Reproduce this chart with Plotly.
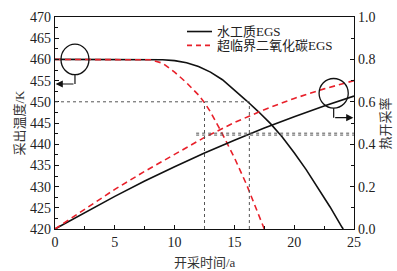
import plotly.graph_objects as go

# ---- data ----
t_water_T = [0, 2, 4, 6, 8, 9, 10, 11, 12, 13, 14, 15, 16, 17, 18, 19, 20, 21, 22, 23, 24, 24.1]
water_T = [460, 460, 460, 460, 460, 459.9, 459.7, 459.2, 458.3, 457.0, 455.2, 452.8, 450.3, 447.7,
           444.9, 441.7, 438.0, 434.0, 429.7, 425.2, 420.4, 420.0]

t_co2_T = [0, 2, 4, 6, 7, 8, 9, 10, 11, 12, 12.5, 13, 14, 15, 16, 17, 17.5]
co2_T = [460, 460, 460, 460, 460, 459.9, 459.1, 457.0, 454.5, 451.6, 449.8, 447.6, 442.4,
         436.8, 430.6, 423.8, 420.0]

t_rate = [0, 2.5, 5, 7.5, 10, 12.5, 15, 17.5, 20, 22.5, 25]
water_rate = [0, 0.078, 0.154, 0.226, 0.294, 0.358, 0.419, 0.476, 0.530, 0.580, 0.627]
co2_rate = [0, 0.095, 0.187, 0.272, 0.352, 0.432, 0.502, 0.563, 0.616, 0.661, 0.700]

series_names = ["水工质EGS", "超临界二氧化碳EGS"]

# reference (guide) values
T_ref = 450
t_ref = [12.5, 16.25]          # CO2, water reach 450 K
rate_ref = [0.443, 0.452]      # rates at those times

FONT = "Liberation Serif, Times New Roman, Noto Sans CJK SC"
BLACK = "#111111"
RED = "#e8202a"
GUIDE = "#555555"
DASH = "6px,4px"

fig = go.Figure()
fig.add_trace(go.Scatter(x=t_water_T, y=water_T, mode="lines", name=series_names[0],
                         line=dict(color=BLACK, width=1.6)))
fig.add_trace(go.Scatter(x=t_co2_T, y=co2_T, mode="lines", name=series_names[1],
                         line=dict(color=RED, width=1.6, dash=DASH)))
fig.add_trace(go.Scatter(x=t_rate, y=water_rate, mode="lines", yaxis="y2",
                         line=dict(color=BLACK, width=1.6)))
fig.add_trace(go.Scatter(x=t_rate, y=co2_rate, mode="lines", yaxis="y2",
                         line=dict(color=RED, width=1.6, dash=DASH)))

shapes = []
# guide lines
shapes.append(dict(type="line", xref="x", yref="y", x0=0, x1=t_ref[1], y0=T_ref, y1=T_ref,
                   line=dict(color=GUIDE, width=1, dash="dot")))
for tv in t_ref:
    shapes.append(dict(type="line", xref="x", yref="y", x0=tv, x1=tv, y0=420, y1=T_ref,
                       line=dict(color=GUIDE, width=1, dash="dot")))
for rv in rate_ref:
    shapes.append(dict(type="line", xref="x", yref="y2", x0=11.8, x1=25, y0=rv, y1=rv,
                       line=dict(color=GUIDE, width=1, dash="dot")))
# circles
shapes.append(dict(type="circle", xref="x", yref="y", x0=1.67 - 1.17, x1=1.67 + 1.17,
                   y0=460 - 3.6, y1=460 + 3.6, line=dict(color=BLACK, width=1.3)))
shapes.append(dict(type="circle", xref="x", yref="y2", x0=23.3 - 1.22, x1=23.3 + 1.22,
                   y0=0.64 - 0.07, y1=0.64 + 0.07, line=dict(color=BLACK, width=1.3)))
# arrow stems
shapes.append(dict(type="line", xref="x", yref="y", x0=1.67, x1=1.67, y0=456.4, y1=454.2,
                   line=dict(color=BLACK, width=1.2)))
shapes.append(dict(type="line", xref="x", yref="y2", x0=23.3, x1=23.3, y0=0.57, y1=0.525,
                   line=dict(color=BLACK, width=1.2)))

# manual legend (compact, like the reference)
leg_rows = [0.9315, 0.866]
leg_styles = [dict(color=BLACK, width=1.6), dict(color=RED, width=1.6, dash="5px,4px")]
for yy, st in zip(leg_rows, leg_styles):
    shapes.append(dict(type="line", xref="paper", yref="paper", x0=0.4415, x1=0.525,
                       y0=yy, y1=yy, line=st))

annotations = [
    dict(x=0.05, y=454.2, ax=1.67, ay=454.2, xref="x", yref="y", axref="x", ayref="y",
         showarrow=True, arrowhead=2, arrowsize=1.2, arrowwidth=1.2, arrowcolor=BLACK, text=""),
    dict(x=24.95, y=0.525, ax=23.3, ay=0.525, xref="x", yref="y2", axref="x", ayref="y2",
         showarrow=True, arrowhead=2, arrowsize=1.2, arrowwidth=1.2, arrowcolor=BLACK, text=""),
    dict(text="开采时间/a", x=0.5, y=-0.115, xref="paper", yref="paper", showarrow=False,
         xanchor="center", yanchor="top", font=dict(family=FONT, size=13, color="#333")),
    dict(text="采出温度/K", x=-0.122, y=0.5, xref="paper", yref="paper", showarrow=False,
         xanchor="center", yanchor="middle",
         textangle=-90, font=dict(family=FONT, size=13, color="#333")),
    dict(text="热开采率", x=1.105, y=0.5, xref="paper", yref="paper", showarrow=False,
         xanchor="center", yanchor="middle",
         textangle=-90, font=dict(family=FONT, size=13, color="#333")),
]
for yy, nm in zip(leg_rows, series_names):
    annotations.append(dict(text=nm, x=0.535, y=yy, xref="paper", yref="paper", showarrow=False,
                            xanchor="left", yanchor="middle",
                            font=dict(family=FONT, size=13, color="#222")))

axis_common = dict(showgrid=False, zeroline=False, showline=True, linecolor=BLACK, linewidth=1.3,
                   ticks="inside", ticklen=4, tickwidth=1, tickcolor=BLACK,
                   tickfont=dict(family=FONT, size=14, color="#222"))

fig.update_layout(
    width=397, height=271,
    margin=dict(l=55, r=43, t=10, b=42),
    paper_bgcolor="white", plot_bgcolor="white",
    font=dict(family=FONT),
    shapes=shapes, annotations=annotations,
    xaxis=dict(range=[0, 25], dtick=5, mirror=True,
               minor=dict(ticks="inside", ticklen=2.5, dtick=2.5, tickcolor=BLACK), **axis_common),
    yaxis=dict(range=[420, 470], dtick=5,
               minor=dict(ticks="inside", ticklen=2.5, dtick=2.5, tickcolor=BLACK), **axis_common),
    yaxis2=dict(range=[0, 1], dtick=0.2, tickformat=".1f", overlaying="y", side="right",
                minor=dict(ticks="inside", ticklen=2.5, dtick=0.1, tickcolor=BLACK), **axis_common),
    showlegend=False,
)

fig.write_html("out.html", config={"displayModeBar": False},
               post_script="document.body.style.margin='0';document.body.style.padding='0';")
